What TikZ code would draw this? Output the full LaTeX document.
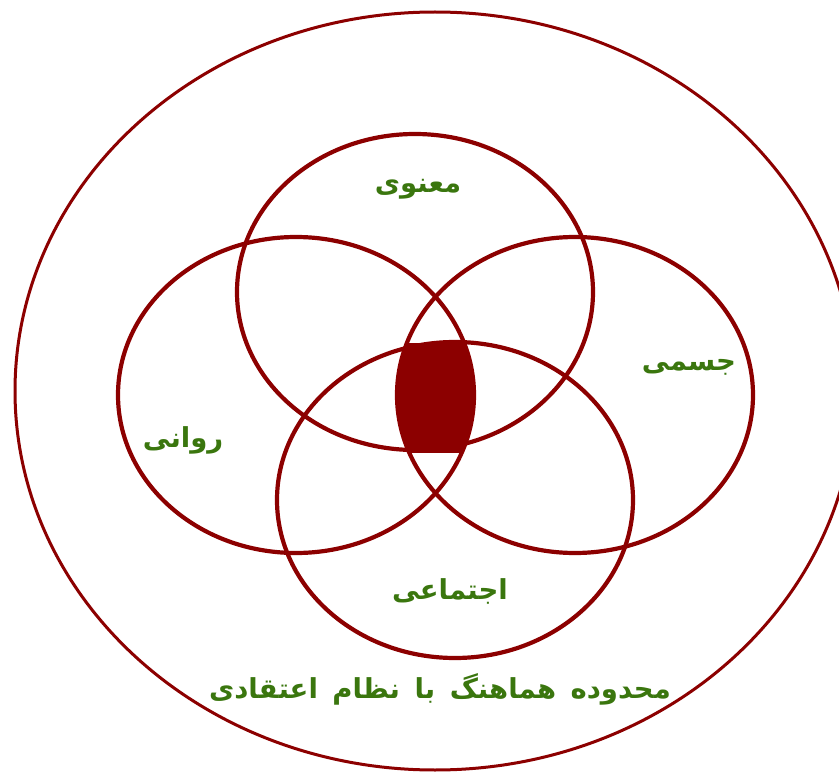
\documentclass[tikz,border=0pt]{standalone}
\usepackage{fontspec}
\usetikzlibrary{shapes.geometric}
\TeXXeTstate=1
\newfontfamily\arabicfont[Script=Arabic]{DejaVu Sans}
\definecolor{dred}{RGB}{140,0,0}
\definecolor{lgreen}{RGB}{58,118,14}
\begin{document}
\begin{tikzpicture}[x=1pt,y=-1pt,
  ring/.style={ellipse,draw=dred,line width=4.2pt,minimum width=356pt,minimum height=316pt,inner sep=0pt},
  outerring/.style={ellipse,draw=dred,line width=3pt,minimum width=840pt,minimum height=758pt,inner sep=0pt},
  lbl/.style={text=lgreen,inner sep=0pt,font=\arabicfont\bfseries\fontsize{27.5}{32}\selectfont}]
\useasboundingbox (0,0) rectangle (839,773);
\clip (0,0) rectangle (839,773);
\node[outerring] (outer) at (435,391) {};
\begin{scope}
  \clip (393,343) rectangle (478,452);
  \clip (296,395) ellipse [x radius=178, y radius=158];
  \fill[dred] (575,395) ellipse [x radius=178, y radius=158];
\end{scope}
\node[ring] (top) at (415,292) {};
\node[ring] (left) at (296,395) {};
\node[ring] (right) at (575,395) {};
\node[ring] (bottom) at (455,500) {};
\node[lbl] (maanavi) at (418,189) {\beginR معنوی\endR};
\node[lbl] (jesmi) at (689,367) {\beginR جسمی\endR};
\node[lbl] (ravani) at (183,440) {\beginR روانی\endR};
\node[lbl] (ejtemaei) at (450,591) {\beginR اجتماعی\endR};
\node[lbl] (mahdudeh) at (440,689) {\beginR محدوده\hspace{5pt} هماهنگ\hspace{5pt} با\hspace{5pt} نظام\hspace{5pt} اعتقادی\endR};
\end{tikzpicture}
\end{document}
